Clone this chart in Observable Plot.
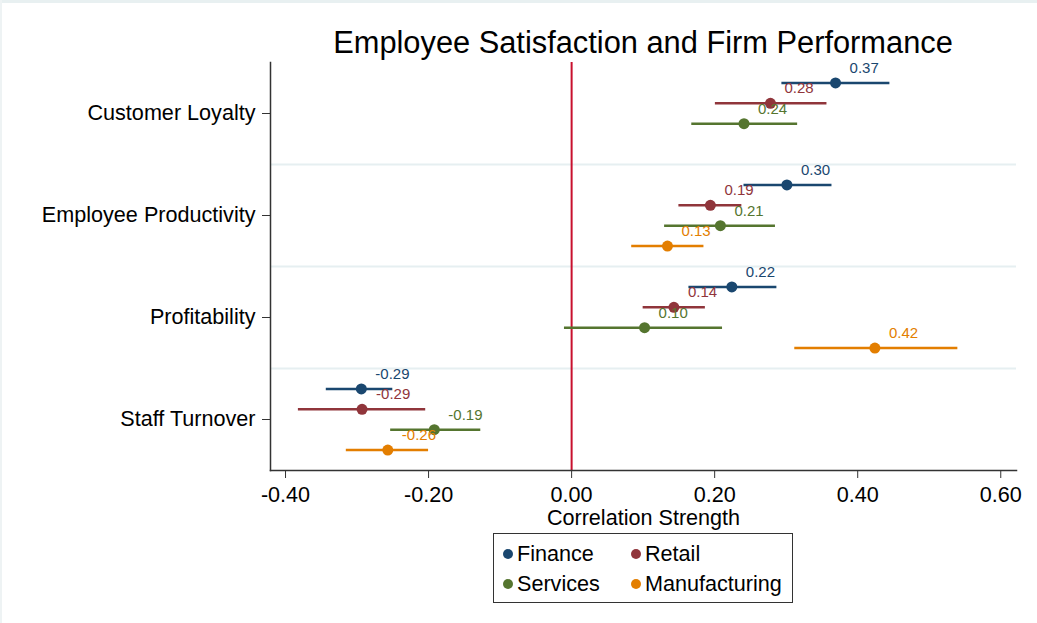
<!DOCTYPE html>
<html>
<head>
<meta charset="utf-8">
<script src="https://cdn.jsdelivr.net/npm/d3@7"></script>
<script src="https://cdn.jsdelivr.net/npm/@observablehq/plot@0.6"></script>
<style>
  html, body { margin: 0; padding: 0; background: #fff; }
  body { width: 1037px; height: 623px; overflow: hidden; position: relative;
         font-family: "Liberation Sans", Arial, sans-serif; color: #000; }
  .edge-top { position: absolute; left: 0; top: 0; width: 1037px; height: 3px; background: #e8f0f1; }
  .edge-left { position: absolute; left: 0; top: 0; width: 2px; height: 623px; background: #eef3f4; }
  #title { position: relative; height: 58px; }
  #title span { position: absolute; left: 270px; width: 746px; top: 28px; line-height: 30px;
                text-align: center; font-size: 30.8px; }
  #chart svg { display: block; }
  #legend { position: relative; margin-left: 493px; margin-top: -3px; width: 300px; height: 70px;
            box-sizing: border-box; border: 1px solid #333; background: #fff; }
  .item { position: absolute; height: 24px; line-height: 24px; font-size: 21.6px; white-space: nowrap; }
  .item i { position: absolute; left: -5px; top: 7px; width: 10px; height: 10px; border-radius: 50%; }
  .item b { font-weight: normal; position: absolute; left: 9px; top: 0; }
</style>
</head>
<body>
<div class="edge-top"></div>
<div class="edge-left"></div>
<div id="title"><span>Employee Satisfaction and Firm Performance</span></div>
<div id="chart"></div>
<div id="legend"></div>
<script>
// ---- data ----
const categories = ["Customer Loyalty", "Employee Productivity", "Profitability", "Staff Turnover"];
const series = ["Finance", "Retail", "Services", "Manufacturing"];
const seriesColors = ["#1a476f", "#90353b", "#55752f", "#e37e00"];
const xTicks = [-0.4, -0.2, 0, 0.2, 0.4, 0.6];
const xLabel = "Correlation Strength";
const chartTitle = "Employee Satisfaction and Firm Performance";

const estFinance = [0.369, 0.301, 0.224, -0.294];
const lowFinance = [0.294, 0.241, 0.164, -0.343];
const highFinance = [0.445, 0.364, 0.287, -0.250];

const estRetail = [0.278, 0.194, 0.143, -0.293];
const lowRetail = [0.201, 0.150, 0.100, -0.382];
const highRetail = [0.357, 0.238, 0.187, -0.204];

const estServices = [0.241, 0.208, 0.102, -0.192];
const lowServices = [0.168, 0.130, -0.010, -0.253];
const highServices = [0.316, 0.285, 0.211, -0.127];

const estManufacturing = [null, 0.134, 0.424, -0.257];
const lowManufacturing = [null, 0.084, 0.312, -0.315];
const highManufacturing = [null, 0.185, 0.540, -0.200];

// ---- table built from the arrays ----
const est = [estFinance, estRetail, estServices, estManufacturing];
const low = [lowFinance, lowRetail, lowServices, lowManufacturing];
const high = [highFinance, highRetail, highServices, highManufacturing];

const rows = [];
categories.forEach((cat, ci) => {
  series.forEach((s, si) => {
    if (est[si][ci] == null) return;
    rows.push({
      category: cat,
      series: s,
      pos: ci + (si - (series.length - 1) / 2) * 0.2,
      est: est[si][ci],
      low: low[si][ci],
      high: high[si][ci]
    });
  });
});
const separators = d3.range(1, categories.length).map(i => i - 0.5);
const fmt = d => d.toFixed(2);

document.querySelector("#title span").textContent = chartTitle;

const chart = Plot.plot({
  width: 1037,
  height: 478,
  marginLeft: 270,
  marginRight: 21,
  marginTop: 4,
  marginBottom: 66,
  style: { fontFamily: "Liberation Sans, Arial, sans-serif", fontSize: "21.6px", color: "#000", background: "#fff" },
  x: { domain: [-0.421, 0.622] },
  y: { domain: [-0.5, categories.length - 0.5], reverse: true },
  color: { domain: series, range: seriesColors },
  marks: [
    Plot.ruleY(separators, { stroke: "#e6eff1", strokeWidth: 2 }),
    Plot.ruleX([0], { stroke: "#c8102e", strokeWidth: 2 }),
    Plot.frame({ anchor: "left", stroke: "#333", strokeWidth: 1.5 }),
    Plot.frame({ anchor: "bottom", stroke: "#333", strokeWidth: 1.5 }),
    Plot.axisX({ ticks: xTicks, tickFormat: fmt, tickSize: 8, tickPadding: 8, label: null, stroke: "#333" }),
    Plot.axisY({ ticks: d3.range(categories.length), tickFormat: i => categories[i], tickSize: 8, tickPadding: 7, label: null, stroke: "#333" }),
    Plot.text([xLabel], { frameAnchor: "bottom", lineAnchor: "middle", dy: 48, fontSize: 21.6, fill: "#000" }),
    Plot.ruleY(rows, { y: "pos", x1: "low", x2: "high", stroke: "series", strokeWidth: 2.5 }),
    Plot.dot(rows, { x: "est", y: "pos", fill: "series", r: 5.5 }),
    Plot.text(rows, { x: "est", y: "pos", text: d => fmt(d.est), fill: "series", dx: 14, dy: -15, textAnchor: "start", fontSize: 15 })
  ]
});
document.getElementById("chart").appendChild(chart);

// ---- legend ----
const legend = document.getElementById("legend");
const colX = [14, 142];
const rowY = [8, 38];
series.forEach((s, i) => {
  const item = document.createElement("div");
  item.className = "item";
  item.style.left = colX[i % 2] + "px";
  item.style.top = rowY[Math.floor(i / 2)] + "px";
  const dot = document.createElement("i");
  dot.style.background = seriesColors[i];
  const label = document.createElement("b");
  label.textContent = s;
  item.appendChild(dot);
  item.appendChild(label);
  legend.appendChild(item);
});
</script>
</body>
</html>
